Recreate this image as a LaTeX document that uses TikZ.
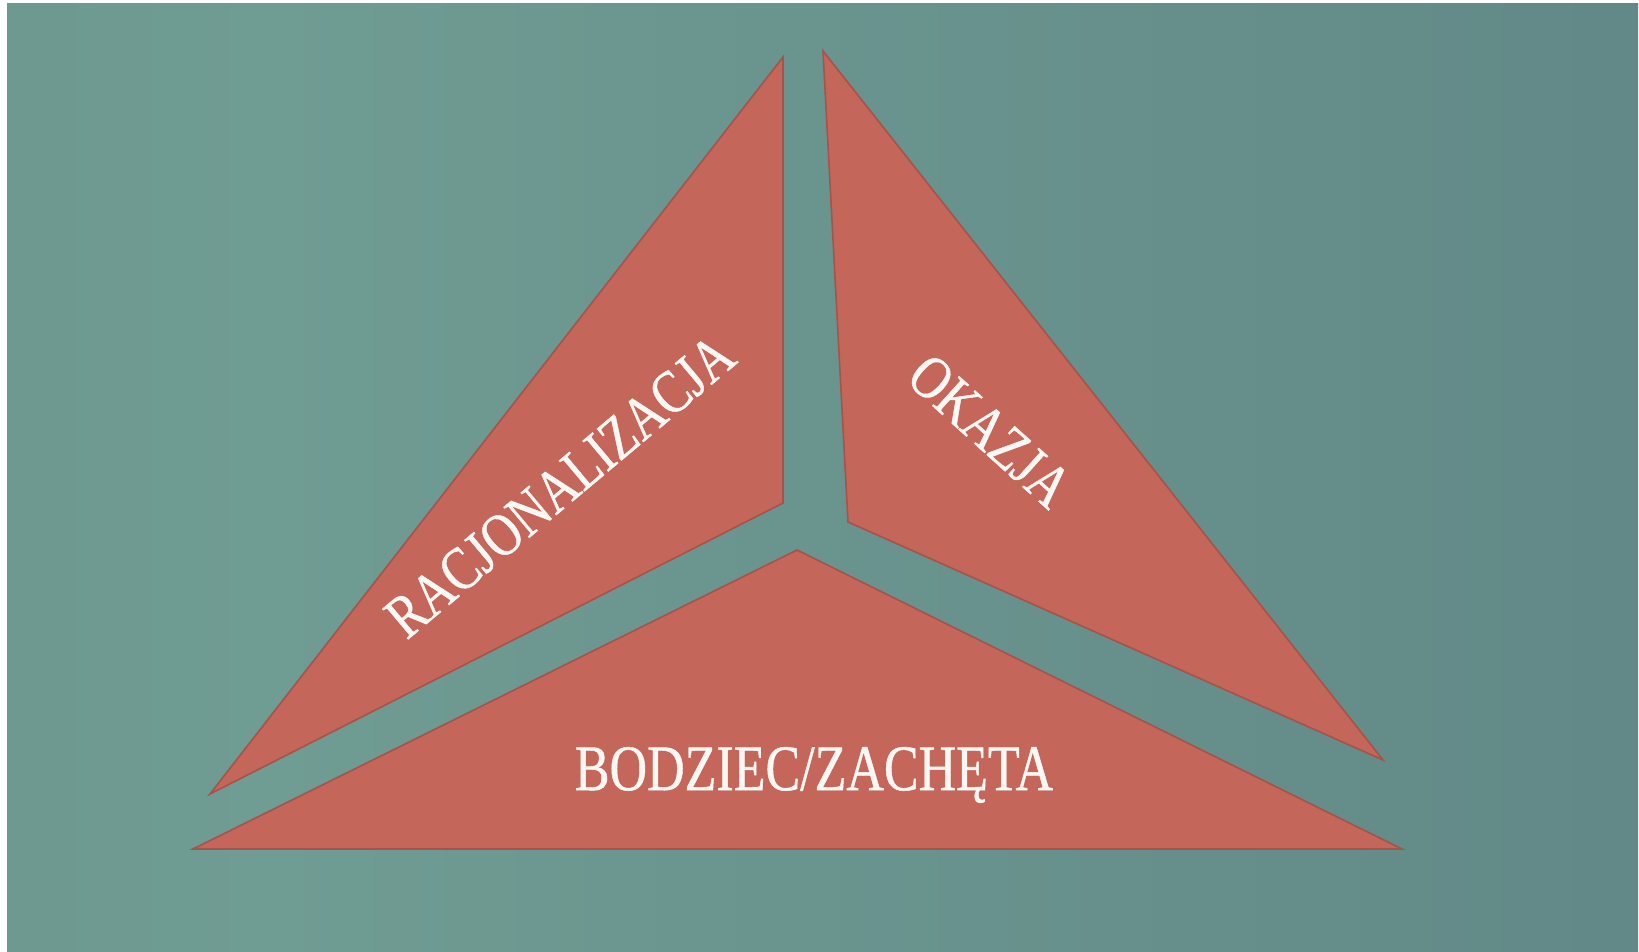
\documentclass[tikz,border=0pt]{standalone}
\usepackage{fontspec}
\usepackage{graphicx}
\newfontfamily\lblfont[FakeBold=0.8]{Liberation Serif}
\definecolor{bgL}{HTML}{668E8A}
\definecolor{bgM}{HTML}{6F9C93}
\definecolor{bgR}{HTML}{5A7D80}
\definecolor{triFill}{HTML}{C5665A}
\definecolor{triEdge}{HTML}{A5534B}
\definecolor{lblCol}{HTML}{FBF8F4}
\pgfdeclarehorizontalshading{bgshade}{100bp}{color(0bp)=(bgL); color(33bp)=(bgM); color(100bp)=(bgR)}
\begin{document}
\begin{tikzpicture}[x=1pt,y=-1pt,
  piece/.style={fill=triFill,draw=triEdge,line width=1.6pt,line join=miter},
  lbl/.style={text=lblCol,inner sep=0pt,font=\lblfont\fontsize{50}{54}\selectfont}]
\useasboundingbox (0,0) rectangle (1639,952);
\fill[white] (0,0) rectangle (1639,952);
\shade[shading=bgshade] (7,4) rectangle (1638,952);
% triangles
\coordinate (A1) at (783,57);  \coordinate (B1) at (783,503); \coordinate (C1) at (210,794);
\coordinate (A2) at (823,51);  \coordinate (B2) at (848,522); \coordinate (C2) at (1383,760);
\coordinate (A3) at (797,550); \coordinate (B3) at (193,849); \coordinate (C3) at (1402,849);
\draw[piece] (A1) -- (B1) -- (C1) -- cycle;
\draw[piece] (A2) -- (B2) -- (C2) -- cycle;
\draw[piece] (A3) -- (B3) -- (C3) -- cycle;
% labels
\node[lbl,rotate=40] (rac) at (560,486) {\scalebox{1}[1.22]{RACJONALIZACJA}};
\node[lbl,rotate=-42] (oka) at (990,431) {\scalebox{1}[1.22]{OKAZJA}};
\node[lbl,font=\lblfont\fontsize{52}{56}\selectfont] (bod) at (814,775) {\scalebox{1}[1.25]{BODZIEC/ZACHĘTA}};
\end{tikzpicture}
\end{document}
